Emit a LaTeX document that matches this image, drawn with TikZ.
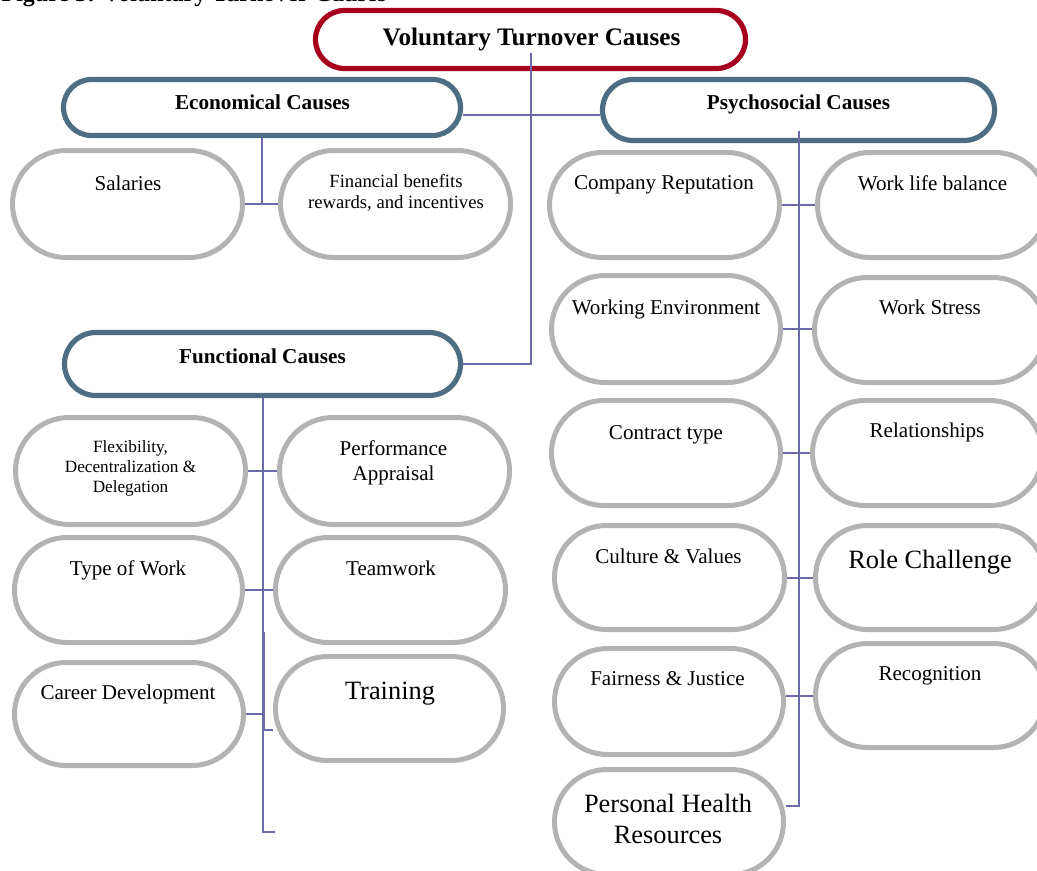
\documentclass[tikz,border=0pt]{standalone}
\usepackage{fontspec}
\setmainfont{Liberation Serif}
\definecolor{pillgray}{HTML}{B3B3B3}
\definecolor{hdrblue}{HTML}{4D6E82}
\definecolor{ttlred}{HTML}{A6001E}
\definecolor{connclr}{HTML}{6B6BA8}
\newcommand{\pillbox}[6]{%
  \pgfmathsetmacro\pbw{(#5-#3)*0.75}%
  \pgfmathsetmacro\pbh{(#6-#4)*0.75}%
  \pgfmathsetmacro\pbr{(#6-#4)*0.3745}%
  \node[#2, minimum width=\pbw pt, minimum height=\pbh pt, rounded corners=\pbr pt] (#1) at ({(#3+#5)/2},{(#4+#6)/2}) {};%
}
\tikzset{
  pill/.style={draw=pillgray, line width=3.75pt, fill=white, inner sep=0pt},
  hdr/.style={draw=hdrblue, line width=3.9pt, fill=white, inner sep=0pt},
  ttl/.style={draw=ttlred, line width=3.9pt, fill=white, inner sep=0pt},
  link/.style={draw=connclr, line width=1.5pt},
  lbl/.style={inner sep=0pt, align=center, anchor=base, font=\fontsize{15.8pt}{18.75pt}\selectfont},
  lblsmall/.style={lbl, font=\fontsize{14pt}{15.75pt}\selectfont},
  lbltiny/.style={lbl, font=\fontsize{12.9pt}{15pt}\selectfont},
  lblbig/.style={lbl, font=\fontsize{19.8pt}{23.25pt}\selectfont},
  lblhdr/.style={lbl, font=\bfseries\fontsize{15.9pt}{18pt}\selectfont},
  lblttl/.style={lbl, font=\bfseries\fontsize{18.9pt}{22pt}\selectfont},
}
\begin{document}
\begin{tikzpicture}[x=0.75pt, y=-0.75pt]
\useasboundingbox (0,0) rectangle (1037,870);
\clip (0,0) rectangle (1037,870);

% figure caption (cut off at the top, as in the source)
\node[lblttl, font=\bfseries\fontsize{18pt}{20pt}\selectfont, anchor=base east] (figcap) at (387,2) {Figure 3: Voluntary Turnover Causes};

% main boxes
\pillbox{title}{ttl}{315.5}{10.5}{745.5}{68.5}
\pillbox{econ}{hdr}{63.5}{79.5}{460.5}{135.5}
\pillbox{psy}{hdr}{602.5}{79.5}{994.5}{140.5}
\pillbox{func}{hdr}{64.5}{332.5}{460.5}{395.5}

% economical
\pillbox{sal}{pill}{12.5}{150.5}{242.5}{257.5}
\pillbox{fin}{pill}{280.5}{150.5}{510.5}{257.5}

% functional
\pillbox{flex}{pill}{15.5}{417.5}{245.5}{524.5}
\pillbox{perf}{pill}{279.5}{417.5}{509.5}{524.5}
\pillbox{tow}{pill}{14.5}{537.5}{242.5}{642.5}
\pillbox{team}{pill}{275.5}{537.5}{505.5}{642.5}
\pillbox{car}{pill}{14.5}{662.5}{243.5}{765.5}
\pillbox{train}{pill}{275.5}{656.5}{503.5}{760.5}

% psychosocial
\pillbox{cr}{pill}{549.5}{152.5}{779.5}{257.5}
\pillbox{wlb}{pill}{817.5}{152.5}{1047.5}{257.5}
\pillbox{we}{pill}{551.5}{275.5}{780.5}{382.5}
\pillbox{ws}{pill}{814.5}{277.5}{1045.5}{382.5}
\pillbox{ct}{pill}{551.5}{400.5}{780.5}{505.5}
\pillbox{rel}{pill}{812.5}{400.5}{1042.5}{505.5}
\pillbox{cv}{pill}{554.5}{525.5}{784.5}{629.5}
\pillbox{rc}{pill}{815.5}{525.5}{1045.5}{629.5}
\pillbox{fj}{pill}{554.5}{648.5}{783.5}{754.5}
\pillbox{recog}{pill}{815.5}{643.5}{1045.5}{747.5}
\pillbox{phr}{pill}{554.5}{769.5}{783.5}{874.5}

% texts (multi-line texts are anchored at the baseline of their last line)
\node[lblttl] (titleT) at (531.5,46) {Voluntary Turnover Causes};
\node[lblhdr] (econT) at (262.5,110) {Economical Causes};
\node[lblhdr] (psyT) at (798.5,110) {Psychosocial Causes};
\node[lblhdr] (funcT) at (262.5,363) {Functional Causes};

\node[lbl] (salT) at (128,190) {Salaries};
\node[lblsmall] (finT) at (396,208) {Financial benefits\\rewards, and incentives};
\node[lbltiny] (flexT) at (130.5,492) {Flexibility,\\Decentralization \&\\Delegation};
\node[lbl] (perfT) at (393.5,480) {Performance\\Appraisal};
\node[lbl] (towT) at (128,575) {Type of Work};
\node[lbl] (teamT) at (391,575) {Teamwork};
\node[lbl] (carT) at (128,699) {Career Development};
\node[lblbig] (trainT) at (390,699) {Training};

\node[lbl] (crT) at (664,189) {Company Reputation};
\node[lbl] (wlbT) at (932.5,190) {Work life balance};
\node[lbl] (weT) at (666,314) {Working Environment};
\node[lbl] (wsT) at (930,314) {Work Stress};
\node[lbl] (ctT) at (666,439) {Contract type};
\node[lbl] (relT) at (927,437) {Relationships};
\node[lbl] (cvT) at (668.5,563) {Culture \& Values};
\node[lblbig] (rcT) at (930,568) {Role Challenge};
\node[lbl] (fjT) at (667.5,685) {Fairness \& Justice};
\node[lbl] (recogT) at (930,680) {Recognition};
\node[lblbig] (phrT) at (668,843) {Personal Health\\Resources};

% junction coordinates
\coordinate (topJ) at (531,53);
\coordinate (midJ) at (531,115);
\coordinate (psyTop) at (798.5,131);
\coordinate (psyBot) at (798.5,806);
\coordinate (funcBot) at (262.5,832);
\coordinate (funcStub) at (275,832);
\coordinate (trainTop) at (263.5,632);
\coordinate (trainJ) at (263.5,730);

% connectors
\draw[link] (topJ) |- (func.east);
\draw[link] (econ.east |- midJ) -- (psy.west |- midJ);
\draw[link] (econ.south) -- (econ.south |- sal.east);
\draw[link] (sal.east) -- (fin.west);

\draw[link] (psyTop) -- (psyBot) -- (phr.east |- psyBot);
\draw[link] (cr.east) -- (wlb.west);
\draw[link] (we.east) -- (we.east -| ws.west);
\draw[link] (ct.east) -- (rel.west);
\draw[link] (cv.east) -- (rc.west);
\draw[link] (fj.east |- recog.west) -- (recog.west);

\draw[link] (func.south) -- (funcBot) -- (funcStub);
\draw[link] (flex.east) -- (perf.west);
\draw[link] (tow.east) -- (team.west);
\draw[link] (car.east) -- (car.east -| func.south);
\draw[link] (trainTop) -- (trainJ) -- (train.west |- trainJ);
\end{tikzpicture}
\end{document}
